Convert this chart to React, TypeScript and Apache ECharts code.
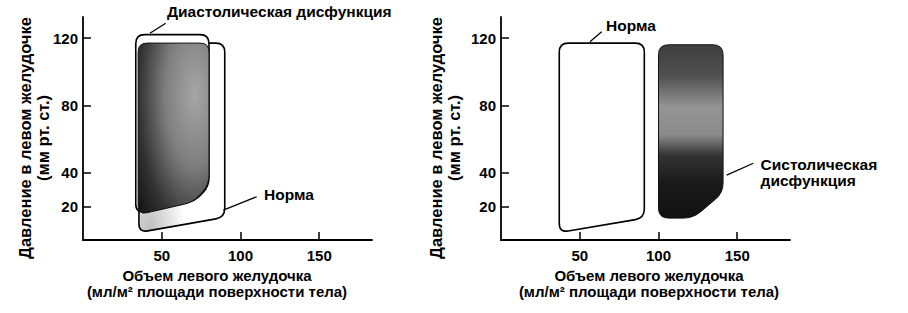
import React, { useEffect, useRef } from "react";
import * as echarts from "echarts";

// Axis ranges and ticks
const xMax = 183.5;
const yMax = 132.5;
const xTicks = [50, 100, 150];
const yTicks = [20, 40, 80, 120];

// Loop vertices: [volume (ml/m2), pressure (mm Hg)]
const normalLoopLeft = [[35.5, 4.5], [35.5, 117], [90, 117], [90, 13.5]];
const diastolicOutline = [[33.5, 16], [33.5, 122], [80, 122], [80, 32], [71, 23]];
const diastolicLoop = [[35, 15], [35, 117], [80, 117], [80, 33], [70, 22.5]];
const normalLoopRight = [[37, 4.5], [37, 117], [91, 117], [91, 13]];
const systolicLoop = [[100, 13], [100, 116], [141, 116], [141, 28], [122, 13]];

// Annotation labels: text, leader-line start, leader-line end, text anchor (data units)
const labelTexts = ["Диастолическая дисфункция", "Норма", "Норма", "Систолическая\nдисфункция"];
const labelFrom = [[42.5, 122.8], [89.1, 17.8], [56.5, 117.8], [143.3, 38.6]];
const labelTo = [[52.5, 128.8], [110.3, 25.7], [63.9, 123.8], [160.2, 45.6]];
const labelAt = [[53.3, 135.5], [115, 27], [66.7, 127.7], [164.8, 40.4]];
const labelPanel = [0, 0, 1, 1];

const yTitle = "Давление в левом желудочке\n(мм рт. ст.)";
const xTitle = "Объем левого желудочка\n(мл/м² площади поверхности тела)";

const FONT = "'Liberation Sans', Arial, Helvetica, sans-serif";

function roundedPath(pts: number[][], r: number): string {
  const n = pts.length;
  let d = "";
  for (let i = 0; i < n; i++) {
    const p = pts[i];
    const prev = pts[(i - 1 + n) % n];
    const next = pts[(i + 1) % n];
    const v1 = [prev[0] - p[0], prev[1] - p[1]];
    const v2 = [next[0] - p[0], next[1] - p[1]];
    const l1 = Math.hypot(v1[0], v1[1]) || 1;
    const l2 = Math.hypot(v2[0], v2[1]) || 1;
    const r1 = Math.min(r, l1 / 2);
    const r2 = Math.min(r, l2 / 2);
    const a = [p[0] + (v1[0] / l1) * r1, p[1] + (v1[1] / l1) * r1];
    const b = [p[0] + (v2[0] / l2) * r2, p[1] + (v2[1] / l2) * r2];
    d +=
      (i === 0 ? "M" : "L") +
      a[0].toFixed(2) + " " + a[1].toFixed(2) +
      " Q" + p[0].toFixed(2) + " " + p[1].toFixed(2) + " " +
      b[0].toFixed(2) + " " + b[1].toFixed(2) + " ";
  }
  return d + "Z";
}

function loopSeries(name: string, pts: number[][], gi: number, style: any, radius: number, z: number) {
  const count = pts.length;
  return {
    type: "custom",
    name,
    xAxisIndex: gi,
    yAxisIndex: gi,
    z,
    clip: false,
    silent: true,
    data: [pts.flat()],
    renderItem: (_params: any, api: any) => {
      const px: number[][] = [];
      for (let i = 0; i < count; i++) {
        px.push(api.coord([api.value(2 * i), api.value(2 * i + 1)]));
      }
      return {
        type: "path",
        shape: { pathData: roundedPath(px, radius) },
        style,
      };
    },
  };
}

function labelSeries(gi: number) {
  const idx = labelTexts.map((_, i) => i).filter((i) => labelPanel[i] === gi);
  return {
    type: "custom",
    xAxisIndex: gi,
    yAxisIndex: gi,
    z: 20,
    clip: false,
    silent: true,
    data: idx.map((i) => ({
      name: labelTexts[i],
      value: [...labelFrom[i], ...labelTo[i], ...labelAt[i]],
    })),
    renderItem: (params: any, api: any) => {
      const a = api.coord([api.value(0), api.value(1)]);
      const b = api.coord([api.value(2), api.value(3)]);
      const t = api.coord([api.value(4), api.value(5)]);
      const text = labelTexts[idx[params.dataIndex]];
      return {
        type: "group",
        children: [
          {
            type: "line",
            shape: { x1: a[0], y1: a[1], x2: b[0], y2: b[1] },
            style: { stroke: "#000", lineWidth: 1.3 },
          },
          {
            type: "text",
            x: t[0],
            y: t[1],
            style: {
              text,
              fill: "#000",
              fontSize: 15.5,
              fontWeight: "bold",
              fontFamily: FONT,
              align: "left",
              verticalAlign: "middle",
              lineHeight: 16,
            },
          },
        ],
      };
    },
  };
}

function xAxisFor(gi: number) {
  return {
    type: "value",
    gridIndex: gi,
    min: 0,
    max: xMax,
    axisLine: { show: true, onZero: false, lineStyle: { color: "#000", width: 1.8 } },
    axisTick: { show: true, inside: true, length: 8, customValues: xTicks, lineStyle: { color: "#000", width: 1.5 } },
    axisLabel: { customValues: xTicks, color: "#000", fontSize: 15, fontWeight: "bold", fontFamily: FONT, margin: 8 },
    splitLine: { show: false },
  };
}

function yAxisFor(gi: number) {
  return {
    type: "value",
    gridIndex: gi,
    min: 0,
    max: yMax,
    axisLine: { show: true, onZero: false, lineStyle: { color: "#000", width: 1.8 } },
    axisTick: { show: true, inside: true, length: 8, customValues: yTicks, lineStyle: { color: "#000", width: 1.5 } },
    axisLabel: { customValues: yTicks, color: "#000", fontSize: 15, fontWeight: "bold", fontFamily: FONT, margin: 5 },
    splitLine: { show: false },
  };
}

function titleText(text: string, x: number, y: number, rotate: boolean, lineHeight: number, fontSize: number) {
  return {
    type: "text",
    x,
    y,
    rotation: rotate ? Math.PI / 2 : 0,
    style: {
      text,
      fill: "#000",
      fontSize,
      fontWeight: "bold",
      fontFamily: FONT,
      align: "center",
      verticalAlign: "middle",
      lineHeight,
    },
  };
}

export default function App() {
  const ref = useRef<HTMLDivElement>(null);

  useEffect(() => {
    if (!ref.current) return;
    const chart = echarts.init(ref.current, undefined, { renderer: "svg" });

    const stroke = { stroke: "#000", lineWidth: 1.6 };
    const normalLeftStyle = {
      ...stroke,
      fill: new echarts.graphic.RadialGradient(0.12, 1.0, 0.42, [
        { offset: 0, color: "#bdbdbd" },
        { offset: 1, color: "#ffffff" },
      ]),
    };
    const normalRightStyle = { ...stroke, fill: "#ffffff" };
    const diastolicOutlineStyle = { ...stroke, fill: "#ffffff" };
    const diastolicStyle = {
      stroke: "#111",
      lineWidth: 1,
      fill: new echarts.graphic.RadialGradient(0.8, 0.3, 1.05, [
        { offset: 0, color: "#a6a6a6" },
        { offset: 0.4, color: "#7e7e7e" },
        { offset: 0.75, color: "#333333" },
        { offset: 1, color: "#121212" },
      ]),
    };
    const systolicStyle = {
      stroke: "#111",
      lineWidth: 1,
      fill: new echarts.graphic.LinearGradient(0, 0, 0, 1, [
        { offset: 0, color: "#3e3e3e" },
        { offset: 0.18, color: "#505050" },
        { offset: 0.36, color: "#949494" },
        { offset: 0.52, color: "#8a8a8a" },
        { offset: 0.64, color: "#333333" },
        { offset: 0.8, color: "#1a1a1a" },
        { offset: 1, color: "#111111" },
      ]),
    };

    chart.setOption({
      animation: false,
      backgroundColor: "#ffffff",
      grid: [
        { left: 83, top: 17, width: 289, height: 223 },
        { left: 501, top: 17, width: 289, height: 223 },
      ],
      xAxis: [xAxisFor(0), xAxisFor(1)],
      yAxis: [yAxisFor(0), yAxisFor(1)],
      series: [
        loopSeries("Норма", normalLoopLeft, 0, normalLeftStyle, 9, 2),
        loopSeries("Диастолическая дисфункция (контур)", diastolicOutline, 0, diastolicOutlineStyle, 9, 3),
        loopSeries("Диастолическая дисфункция", diastolicLoop, 0, diastolicStyle, 9, 4),
        loopSeries("Норма", normalLoopRight, 1, normalRightStyle, 9, 2),
        loopSeries("Систолическая дисфункция", systolicLoop, 1, systolicStyle, 10, 3),
        labelSeries(0),
        labelSeries(1),
      ],
      graphic: [
        titleText(yTitle, 34, 138, true, 18, 16.5),
        titleText(yTitle, 445, 138, true, 18, 16.5),
        titleText(xTitle, 217, 283.5, false, 15.5, 15),
        titleText(xTitle, 649, 283.5, false, 15.5, 15),
      ],
    });

    return () => chart.dispose();
  }, []);

  return (
    <div
      ref={ref}
      style={{ position: "absolute", left: 0, top: 0, width: 908, height: 313, background: "#fff" }}
    />
  );
}
